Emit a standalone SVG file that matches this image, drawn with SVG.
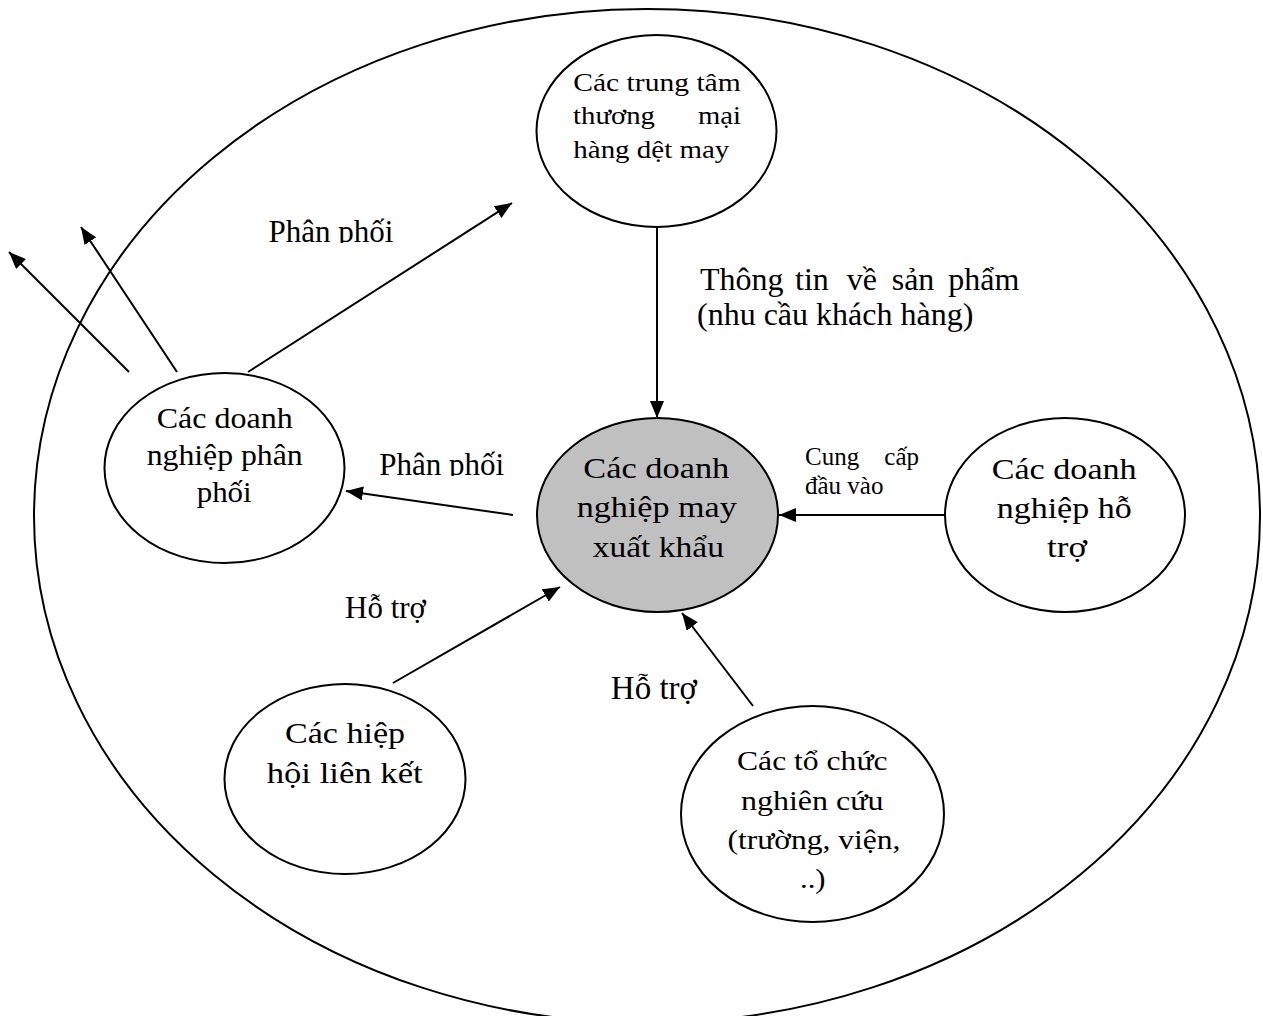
<svg xmlns="http://www.w3.org/2000/svg" width="1263" height="1016" viewBox="0 0 1263 1016">
<style>
  .shape{fill:#fff;stroke:#000;stroke-width:2}
  .main{fill:#c0c0c0}
  text{font-family:"Liberation Serif","Times New Roman",serif;fill:#000}
  .edge{stroke:#000;stroke-width:2;fill:none;marker-end:url(#ah)}
  .n26{font-size:26px}
  .n28{font-size:28px}
  .n29{font-size:29px}
  .n30{font-size:30px}
  .lbl{font-size:31px}
</style>
<defs>
  <marker id="ah" markerUnits="userSpaceOnUse" markerWidth="18" markerHeight="14" refX="17" refY="7" orient="auto">
    <path d="M0,0 L17,7 L0,14 z" fill="#000"/>
  </marker>
  <clipPath id="c1"><rect x="260" y="200" width="150" height="43"/></clipPath>
  <clipPath id="c2"><rect x="370" y="435" width="150" height="41"/></clipPath>
</defs>
<rect x="0" y="0" width="1263" height="1016" fill="#fff"/>

<g id="boundary">
  <ellipse cx="647" cy="516" rx="613" ry="507" fill="none" stroke="#000" stroke-width="2"/>
</g>

<g id="connectors">
  <line class="edge" x1="657" y1="227" x2="657" y2="418"/>
  <line class="edge" x1="945" y1="515" x2="779" y2="515"/>
  <line class="edge" x1="513" y1="515" x2="346" y2="491"/>
  <line class="edge" x1="248" y1="372" x2="512" y2="203"/>
  <line class="edge" x1="129" y1="372" x2="9" y2="252"/>
  <line class="edge" x1="177" y1="372" x2="81" y2="227"/>
  <line class="edge" x1="393" y1="683" x2="560" y2="587"/>
  <line class="edge" x1="753" y1="706" x2="682" y2="613"/>
</g>

<g id="labels">
  <text class="lbl" x="268.6" y="241.7" clip-path="url(#c1)">Phân phối</text>
  <text class="lbl" x="379.3" y="475" clip-path="url(#c2)">Phân phối</text>
  <text style="font-size:32px" y="290"><tspan x="700">Thông</tspan><tspan x="795">tin</tspan><tspan x="846.7">về</tspan><tspan x="891.7">sản</tspan><tspan x="948.3">phẩm</tspan></text>
  <text style="font-size:32px" x="697" y="325">(nhu cầu khách hàng)</text>
  <text style="font-size:25px" y="465"><tspan x="805">Cung</tspan><tspan x="884.3">cấp</tspan></text>
  <text style="font-size:25px" x="805" y="494">đầu vào</text>
  <text class="lbl" x="345" y="618">Hỗ trợ</text>
  <text style="font-size:33px" x="610.8" y="699">Hỗ trợ</text>
</g>

<g id="node-trung-tam">
  <ellipse class="shape" cx="656.5" cy="131" rx="120" ry="96"/>
  <text class="n26" x="573.3" y="91" textLength="167.4" lengthAdjust="spacingAndGlyphs">Các trung tâm</text>
  <text class="n26" x="573" y="124" textLength="82" lengthAdjust="spacingAndGlyphs">thương</text>
  <text class="n26" x="698" y="124" textLength="43" lengthAdjust="spacingAndGlyphs">mại</text>
  <text class="n26" x="573.3" y="158" textLength="156" lengthAdjust="spacingAndGlyphs">hàng dệt may</text>
</g>

<g id="node-may-xuat-khau">
  <ellipse class="shape main" cx="657.5" cy="515" rx="120.5" ry="97"/>
  <text class="n30" x="583.3" y="478" textLength="146" lengthAdjust="spacingAndGlyphs">Các doanh</text>
  <text class="n30" x="576.7" y="517" textLength="160" lengthAdjust="spacingAndGlyphs">nghiệp may</text>
  <text class="n30" x="592.7" y="557" textLength="131.3" lengthAdjust="spacingAndGlyphs">xuất khẩu</text>
</g>

<g id="node-ho-tro">
  <ellipse class="shape" cx="1065" cy="515" rx="120" ry="97"/>
  <text class="n30" x="991.7" y="479" textLength="145" lengthAdjust="spacingAndGlyphs">Các doanh</text>
  <text class="n30" x="996.7" y="518" textLength="135" lengthAdjust="spacingAndGlyphs">nghiệp hỗ</text>
  <text class="n30" x="1047" y="557" textLength="40" lengthAdjust="spacingAndGlyphs">trợ</text>
</g>

<g id="node-phan-phoi">
  <ellipse class="shape" cx="224.5" cy="468" rx="120" ry="95"/>
  <text class="n29" x="156.7" y="428" textLength="136" lengthAdjust="spacingAndGlyphs">Các doanh</text>
  <text class="n29" x="146.7" y="465" textLength="156" lengthAdjust="spacingAndGlyphs">nghiệp phân</text>
  <text class="n29" x="196.7" y="502" textLength="55" lengthAdjust="spacingAndGlyphs">phối</text>
</g>

<g id="node-hiep-hoi">
  <ellipse class="shape" cx="345" cy="779" rx="120.5" ry="95"/>
  <text class="n30" x="285" y="743" textLength="120" lengthAdjust="spacingAndGlyphs">Các hiệp</text>
  <text class="n30" x="266.7" y="783" textLength="156" lengthAdjust="spacingAndGlyphs">hội liên kết</text>
</g>

<g id="node-nghien-cuu">
  <ellipse class="shape" cx="812.5" cy="814" rx="131.5" ry="108"/>
  <text class="n28" x="737" y="770" textLength="150.6" lengthAdjust="spacingAndGlyphs">Các tổ chức</text>
  <text class="n28" x="741" y="810" textLength="142.6" lengthAdjust="spacingAndGlyphs">nghiên cứu</text>
  <text class="n28" x="727.4" y="849" textLength="173" lengthAdjust="spacingAndGlyphs">(trường, viện,</text>
  <text class="n28" x="800" y="888" textLength="25.6" lengthAdjust="spacingAndGlyphs">..)</text>
</g>
</svg>
